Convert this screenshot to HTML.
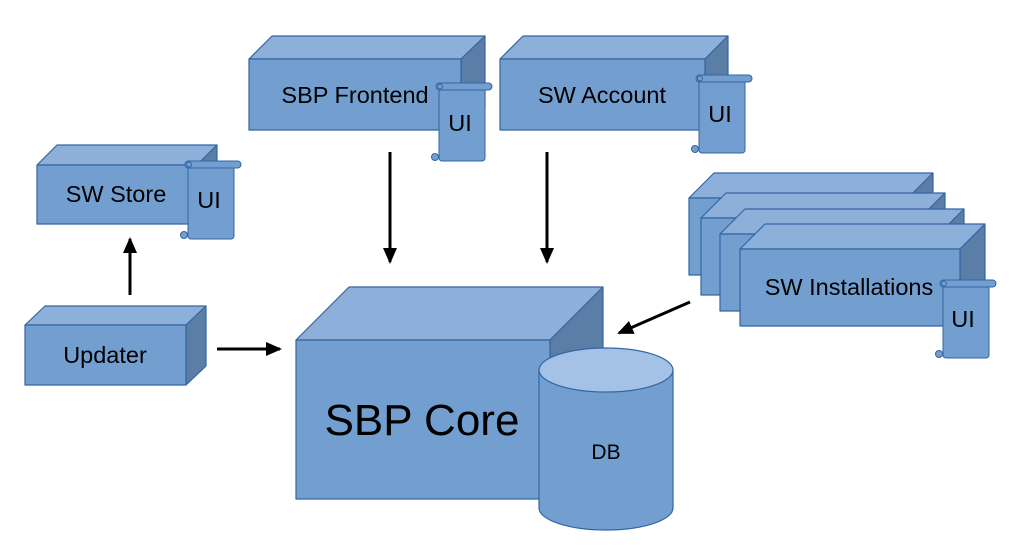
<!DOCTYPE html>
<html><head><meta charset="utf-8"><style>
html,body{margin:0;padding:0;background:#fff;}
svg text{font-family:"Liberation Sans",sans-serif;fill:#000;}
</style></head><body>
<svg width="1011" height="544" viewBox="0 0 1011 544" xmlns="http://www.w3.org/2000/svg">
<defs>
<marker id="ah" markerWidth="16" markerHeight="14" refX="14" refY="7" orient="auto" markerUnits="userSpaceOnUse">
<path d="M0,0 L16,7 L0,14 z" fill="#000"/></marker>
<g id="scroll">
<rect x="3" y="3" width="46" height="75" rx="3" fill="#729fcf" stroke="#3465a4"/>
<rect x="0" y="0" width="56" height="7" rx="3.5" fill="#729fcf" stroke="#3465a4"/>
<circle cx="4" cy="3.5" r="2.5" fill="#729fcf" stroke="#3465a4"/>
<circle cx="-1" cy="74" r="3.5" fill="#729fcf" stroke="#3465a4"/>
</g>
</defs>
<g stroke="#3465a4" stroke-width="1.2" stroke-linejoin="round">
<polygon points="249,59 272,36 485,36 461,59" fill="#8cb0d9"/>
<polygon points="461,59 485,36 485,107 461,130" fill="#5b7ea6"/>
<rect x="249" y="59" width="212" height="71" fill="#729fcf"/>
<polygon points="500,59 523,36 728,36 705,59" fill="#8cb0d9"/>
<polygon points="705,59 728,36 728,107 705,130" fill="#5b7ea6"/>
<rect x="500" y="59" width="205" height="71" fill="#729fcf"/>
<polygon points="37,165 57,145 217,145 197,165" fill="#8cb0d9"/>
<polygon points="197,165 217,145 217,204 197,224" fill="#5b7ea6"/>
<rect x="37" y="165" width="160" height="59" fill="#729fcf"/>
<polygon points="25,325 45,306 206,306 186,325" fill="#8cb0d9"/>
<polygon points="186,325 206,306 206,366 186,385" fill="#5b7ea6"/>
<rect x="25" y="325" width="161" height="60" fill="#729fcf"/>
<polygon points="689,198 714,173 933,173 908,198" fill="#8cb0d9"/>
<polygon points="908,198 933,173 933,250 908,275" fill="#5b7ea6"/>
<rect x="689" y="198" width="219" height="77" fill="#729fcf"/>
<polygon points="701,218 726,193 945,193 920,218" fill="#8cb0d9"/>
<polygon points="920,218 945,193 945,270 920,295" fill="#5b7ea6"/>
<rect x="701" y="218" width="219" height="77" fill="#729fcf"/>
<polygon points="720,234 745,209 964,209 939,234" fill="#8cb0d9"/>
<polygon points="939,234 964,209 964,286 939,311" fill="#5b7ea6"/>
<rect x="720" y="234" width="219" height="77" fill="#729fcf"/>
<polygon points="740,249 765,224 985,224 960,249" fill="#8cb0d9"/>
<polygon points="960,249 985,224 985,301 960,326" fill="#5b7ea6"/>
<rect x="740" y="249" width="220" height="77" fill="#729fcf"/>
<polygon points="296,340 349,287 603,287 550,340" fill="#8cb0d9"/>
<polygon points="550,340 603,287 603,446 550,499" fill="#5b7ea6"/>
<rect x="296" y="340" width="254" height="159" fill="#729fcf"/>
<path d="M539,370 L539,508 A67,22 0 0 0 673,508 L673,370" fill="#729fcf"/>
<ellipse cx="606" cy="370" rx="67" ry="22" fill="#a4c2e6"/>
</g>
<use href="#scroll" x="436" y="83"/>
<use href="#scroll" x="696" y="75"/>
<use href="#scroll" x="185" y="161"/>
<use href="#scroll" x="940" y="280"/>
<g stroke="#000" stroke-width="3" fill="none">
<line x1="390" y1="152" x2="390" y2="262" marker-end="url(#ah)"/>
<line x1="547" y1="152" x2="547" y2="262" marker-end="url(#ah)"/>
<line x1="130" y1="295" x2="130" y2="239" marker-end="url(#ah)"/>
<line x1="217" y1="349" x2="280" y2="349" marker-end="url(#ah)"/>
<line x1="690" y1="302" x2="619" y2="333" marker-end="url(#ah)"/>
</g>
<g font-size="23.5">
<text x="355" y="103" text-anchor="middle">SBP Frontend</text>
<text x="602" y="103" text-anchor="middle">SW Account</text>
<text x="116" y="202" text-anchor="middle">SW Store</text>
<text x="105" y="363" text-anchor="middle">Updater</text>
<text x="849" y="295" text-anchor="middle">SW Installations</text>
<text x="460" y="131" text-anchor="middle">UI</text>
<text x="720" y="122" text-anchor="middle">UI</text>
<text x="209" y="208" text-anchor="middle">UI</text>
<text x="963" y="327" text-anchor="middle">UI</text>
</g>
<text x="422" y="435" font-size="44" text-anchor="middle">SBP Core</text>
<text x="606" y="459" font-size="21" text-anchor="middle">DB</text>
</svg>
</body></html>
